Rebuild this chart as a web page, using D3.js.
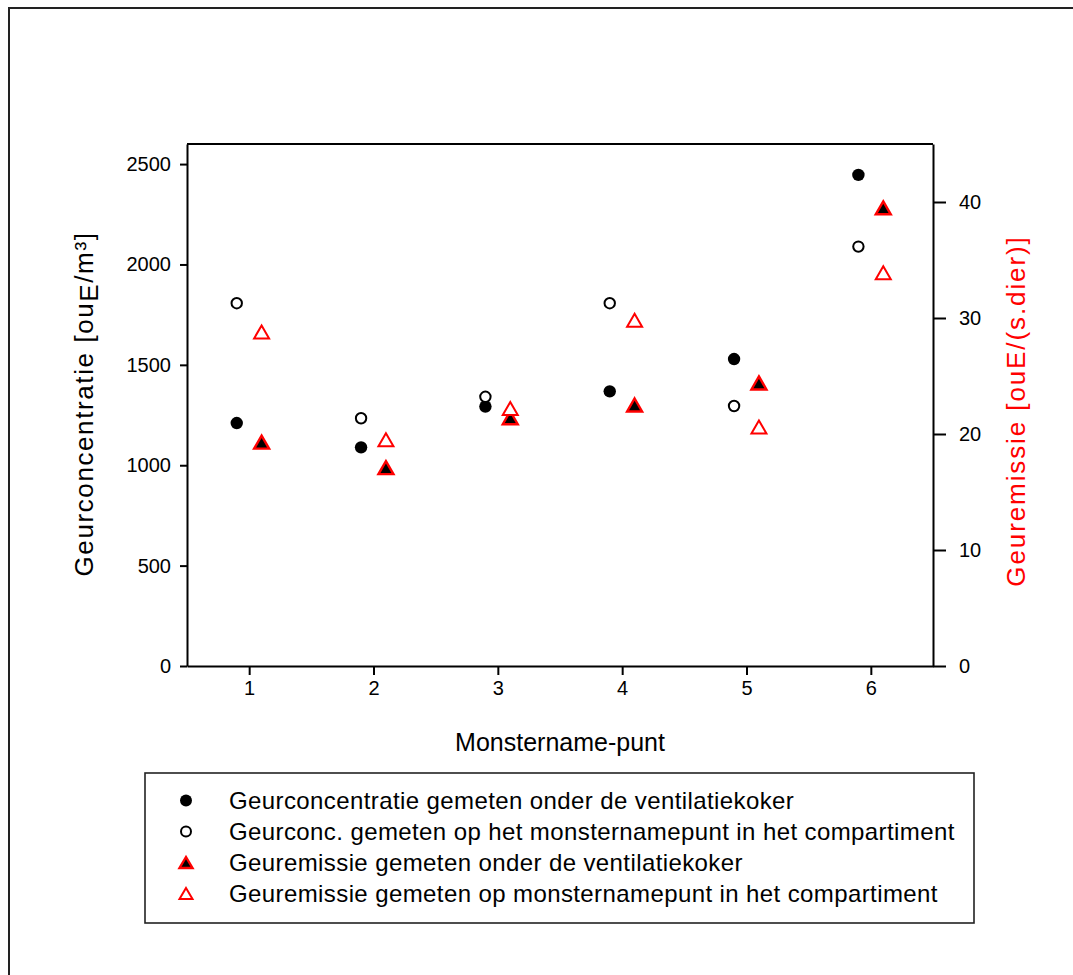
<!DOCTYPE html>
<html>
<head>
<meta charset="utf-8">
<script src="https://cdn.jsdelivr.net/npm/d3@7"></script>
<style>
  html, body { margin: 0; padding: 0; background: #fff; }
  svg { display: block; font-family: "Liberation Sans", Arial, sans-serif; }
</style>
</head>
<body>
<svg id="chart" width="1073" height="975"></svg>
<script>
// Sampling points and measured values
const points = [1, 2, 3, 4, 5, 6];
const tickLabelsLeft = [0, 500, 1000, 1500, 2000, 2500];
const tickLabelsRight = [0, 10, 20, 30, 40];

// Odour concentration [ouE/m3], left axis
const concVentilation = [1210, 1089, 1292, 1368, 1529, 2446];
const concCompartment = [1807, 1234, 1341, 1807, 1295, 2089];

// Odour emission [ouE/(s.animal)], right axis
const emisVentilation = [19.3, 17.1, 21.4, 22.5, 24.4, 39.5];
const emisCompartment = [28.8, 19.5, 22.2, 29.8, 20.6, 33.9];

const legendLabels = [
  "Geurconcentratie gemeten onder de ventilatiekoker",
  "Geurconc. gemeten op het monsternamepunt in het compartiment",
  "Geuremissie gemeten onder de ventilatiekoker",
  "Geuremissie gemeten op monsternamepunt in het compartiment"
];

const svg = d3.select("#chart");
const RED = "#ff0000";

// Outer frame
svg.append("rect")
  .attr("x", 9).attr("y", 8).attr("width", 1100).attr("height", 1000)
  .attr("fill", "none").attr("stroke", "#222").attr("stroke-width", 2);

const plot = { left: 187, right: 933, top: 144, bottom: 666 };

const x = d3.scaleLinear().domain([0.5, 6.5]).range([plot.left, plot.right]);
const yL = d3.scaleLinear().domain([0, 2600]).range([plot.bottom, plot.top]);
const yR = d3.scaleLinear().domain([0, 45]).range([plot.bottom, plot.top]);

const fontTick = 20;
const fmt = d3.format("d");

// Axes
const axisBottom = d3.axisBottom(x).tickValues(points).tickFormat(fmt).tickSize(9).tickPadding(6).tickSizeOuter(0);
const axisLeft = d3.axisLeft(yL).tickValues(tickLabelsLeft).tickFormat(fmt).tickSize(7).tickPadding(9).tickSizeOuter(0);
const axisRight = d3.axisRight(yR).tickValues(tickLabelsRight).tickFormat(fmt).tickSize(13).tickPadding(13).tickSizeOuter(0);

function styleAxis(g) {
  g.selectAll("path, line").attr("stroke", "#000").attr("stroke-width", 2);
  g.selectAll("text").attr("fill", "#000").style("font-size", fontTick + "px")
    .style("font-family", "'Liberation Sans', Arial, sans-serif");
}

svg.append("g").attr("transform", `translate(0,${plot.bottom})`).call(axisBottom).call(styleAxis);
svg.append("g").attr("transform", `translate(${plot.left},0)`).call(axisLeft).call(styleAxis);
svg.append("g").attr("transform", `translate(${plot.right},0)`).call(axisRight).call(styleAxis);

// Top border of plot area
svg.append("line")
  .attr("x1", plot.left).attr("x2", plot.right)
  .attr("y1", plot.top).attr("y2", plot.top)
  .attr("stroke", "#000").attr("stroke-width", 2);

// Axis titles
svg.append("text")
  .attr("x", 560).attr("y", 751)
  .attr("text-anchor", "middle").style("font-size", "25px").attr("fill", "#000")
  .text("Monstername-punt");

const leftTitle = svg.append("text")
  .attr("transform", `translate(93,404) rotate(-90)`)
  .attr("text-anchor", "middle").style("font-size", "26px").style("letter-spacing", "1.6px")
  .attr("fill", "#000");
leftTitle.append("tspan").text("Geurconcentratie [ou");
leftTitle.append("tspan").attr("dy", 5).text("E");
leftTitle.append("tspan").attr("dy", -5).text("/m³]");

svg.append("text")
  .attr("transform", `translate(1025,411) rotate(-90)`)
  .attr("text-anchor", "middle").style("font-size", "26px").style("letter-spacing", "1.9px")
  .attr("fill", RED)
  .text("Geuremissie [ouE/(s.dier)]");

// Marker shapes
const circleR = 5.6;
const triW = 15, triH = 13;
function triPath(cx, cy) {
  return `M${cx},${cy - triH / 2}L${cx + triW / 2},${cy + triH / 2}L${cx - triW / 2},${cy + triH / 2}Z`;
}

const offset = 0.1;
const marks = svg.append("g");

// Filled circles: concentration under the ventilation duct
marks.selectAll(".c1").data(points).enter().append("circle")
  .attr("cx", (d) => x(d - offset)).attr("cy", (d, i) => yL(concVentilation[i]))
  .attr("r", circleR + 0.6).attr("fill", "#000");

// Open circles: concentration at compartment sampling point
marks.selectAll(".c2").data(points).enter().append("circle")
  .attr("cx", (d) => x(d - offset)).attr("cy", (d, i) => yL(concCompartment[i]))
  .attr("r", circleR - 0.4).attr("fill", "#fff").attr("stroke", "#000").attr("stroke-width", 2);

// Filled triangles: emission under the ventilation duct
marks.selectAll(".t1").data(points).enter().append("path")
  .attr("d", (d, i) => triPath(x(d + offset), yR(emisVentilation[i])))
  .attr("fill", "#000").attr("stroke", RED).attr("stroke-width", 2.4).attr("stroke-linejoin", "miter");

// Open triangles: emission at compartment sampling point
marks.selectAll(".t2").data(points).enter().append("path")
  .attr("d", (d, i) => triPath(x(d + offset), yR(emisCompartment[i])))
  .attr("fill", "#fff").attr("stroke", RED).attr("stroke-width", 2);

// Legend
const legend = svg.append("g");
legend.append("rect")
  .attr("x", 145).attr("y", 773).attr("width", 829).attr("height", 150)
  .attr("fill", "#fff").attr("stroke", "#222").attr("stroke-width", 1.6);

const legY = d3.scalePoint().domain(d3.range(4)).range([800.5, 893.5]);
const legX = 186;

legend.append("circle").attr("cx", legX).attr("cy", legY(0)).attr("r", 6).attr("fill", "#000");
legend.append("circle").attr("cx", legX).attr("cy", legY(1)).attr("r", 5).attr("fill", "#fff")
  .attr("stroke", "#000").attr("stroke-width", 2);
legend.append("path")
  .attr("d", `M${legX},${legY(2) - 5.5}L${legX + 6.5},${legY(2) + 5.5}L${legX - 6.5},${legY(2) + 5.5}Z`)
  .attr("fill", "#000").attr("stroke", RED).attr("stroke-width", 2.4);
legend.append("path")
  .attr("d", `M${legX},${legY(3) - 5.5}L${legX + 6.5},${legY(3) + 5.5}L${legX - 6.5},${legY(3) + 5.5}Z`)
  .attr("fill", "#fff").attr("stroke", RED).attr("stroke-width", 2);

legend.selectAll(".lt").data(legendLabels).enter().append("text")
  .attr("x", 229).attr("y", (d, i) => legY(i)).attr("dy", "0.36em")
  .style("font-size", "24px").style("letter-spacing", "0.4px").attr("fill", "#000")
  .text((d) => d);
</script>
</body>
</html>
